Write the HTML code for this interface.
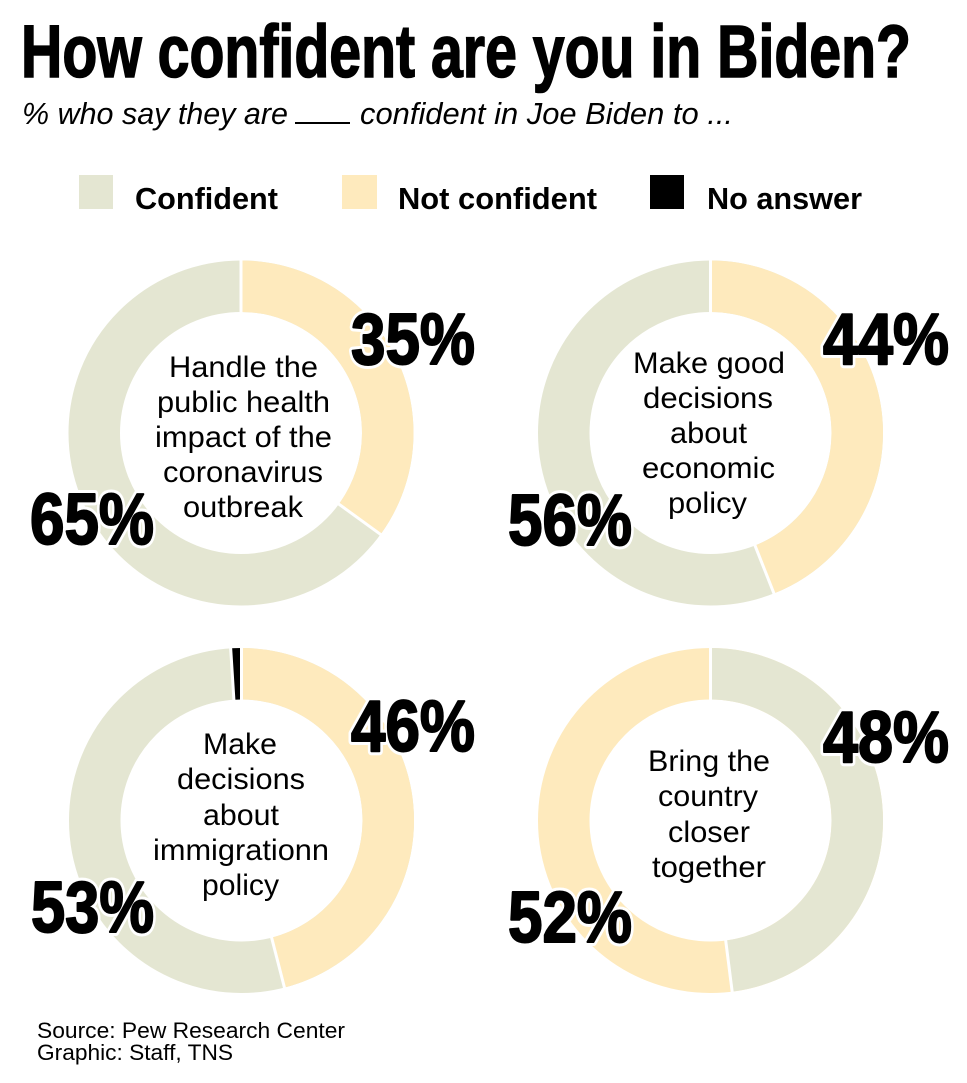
<!DOCTYPE html>
<html>
<head>
<meta charset="utf-8">
<style>
html,body{margin:0;padding:0;background:#fff;}
svg{display:block;}
</style>
</head>
<body>
<svg width="967" height="1083" viewBox="0 0 967 1083" xmlns="http://www.w3.org/2000/svg">
<rect width="967" height="1083" fill="#fff"/>

<!-- Title -->
<text x="21" y="77" font-family="Liberation Sans, sans-serif" font-weight="bold" font-size="74" fill="#000" stroke="#000" stroke-width="1.6" textLength="890" lengthAdjust="spacingAndGlyphs">How confident are you in Biden?</text>

<!-- Subtitle -->
<text x="22" y="124" font-family="Liberation Sans, sans-serif" font-style="italic" font-size="30.5" fill="#000" textLength="266" lengthAdjust="spacingAndGlyphs">% who say they are</text>
<rect x="295" y="122" width="55" height="2" fill="#000"/>
<text x="360" y="124" font-family="Liberation Sans, sans-serif" font-style="italic" font-size="30.5" fill="#000" textLength="373" lengthAdjust="spacingAndGlyphs">confident in Joe Biden to ...</text>

<!-- Legend -->
<rect x="79" y="175" width="34" height="34" fill="#e4e6d2"/>
<text x="135" y="209" font-family="Liberation Sans, sans-serif" font-weight="bold" font-size="30.5" fill="#000" textLength="143" lengthAdjust="spacingAndGlyphs">Confident</text>
<rect x="342" y="175" width="35" height="34" fill="#feeabd"/>
<text x="398" y="209" font-family="Liberation Sans, sans-serif" font-weight="bold" font-size="30.5" fill="#000" textLength="199" lengthAdjust="spacingAndGlyphs">Not confident</text>
<rect x="650" y="175" width="34" height="34" fill="#000"/>
<text x="707" y="209" font-family="Liberation Sans, sans-serif" font-weight="bold" font-size="30.5" fill="#000" textLength="155" lengthAdjust="spacingAndGlyphs">No answer</text>

<!-- Donut 1 (top-left) -->
<g fill="none" stroke-width="51.5">
  <circle cx="241" cy="433" r="146.75" stroke="#e4e6d2"/>
  <circle cx="241" cy="433" r="146.75" stroke="#feeabd" stroke-dasharray="322.72 2000" transform="rotate(-90 241 433)"/>
</g>
<g stroke="#fff" stroke-width="3">
  <line x1="241" y1="433" x2="241" y2="253"/>
  <line x1="241" y1="433" x2="386.6" y2="538.8"/>
</g>

<!-- Donut 2 (top-right) -->
<g fill="none" stroke-width="51.5">
  <circle cx="710.5" cy="433" r="146.75" stroke="#e4e6d2"/>
  <circle cx="710.5" cy="433" r="146.75" stroke="#feeabd" stroke-dasharray="405.70 2000" transform="rotate(-90 710.5 433)"/>
</g>
<g stroke="#fff" stroke-width="3">
  <line x1="710.5" y1="433" x2="710.5" y2="253"/>
  <line x1="710.5" y1="433" x2="776.7" y2="600.4"/>
</g>

<!-- Donut 3 (bottom-left) -->
<g fill="none" stroke-width="51.5">
  <circle cx="241.5" cy="820.5" r="146.75" stroke="#e4e6d2"/>
  <circle cx="241.5" cy="820.5" r="146.75" stroke="#feeabd" stroke-dasharray="424.14 2000" transform="rotate(-90 241.5 820.5)"/>
  <circle cx="241.5" cy="820.5" r="146.75" stroke="#000" stroke-dasharray="0 912.83 9.22 2000" transform="rotate(-90 241.5 820.5)"/>
</g>
<g stroke="#fff" stroke-width="3">
  <line x1="241.5" y1="820.5" x2="241.5" y2="640.5"/>
  <line x1="241.5" y1="820.5" x2="286.3" y2="994.8"/>
  <line x1="241.5" y1="820.5" x2="230.2" y2="640.9"/>
</g>

<!-- Donut 4 (bottom-right) -->
<g fill="none" stroke-width="51.5">
  <circle cx="710.5" cy="820.5" r="146.75" stroke="#feeabd"/>
  <circle cx="710.5" cy="820.5" r="146.75" stroke="#e4e6d2" stroke-dasharray="442.58 2000" transform="rotate(-90 710.5 820.5)"/>
</g>
<g stroke="#fff" stroke-width="3">
  <line x1="710.5" y1="820.5" x2="710.5" y2="640.5"/>
  <line x1="710.5" y1="820.5" x2="733.1" y2="999.1"/>
</g>

<!-- Center texts -->
<g font-family="Liberation Sans, sans-serif" font-size="30" fill="#000">
  <text x="169" y="377" textLength="149" lengthAdjust="spacingAndGlyphs">Handle the</text>
  <text x="157" y="412" textLength="173" lengthAdjust="spacingAndGlyphs">public health</text>
  <text x="155" y="447" textLength="177" lengthAdjust="spacingAndGlyphs">impact of the</text>
  <text x="163" y="482" textLength="160" lengthAdjust="spacingAndGlyphs">coronavirus</text>
  <text x="183" y="517" textLength="120" lengthAdjust="spacingAndGlyphs">outbreak</text>

  <text x="633" y="373" textLength="152" lengthAdjust="spacingAndGlyphs">Make good</text>
  <text x="643" y="408" textLength="130" lengthAdjust="spacingAndGlyphs">decisions</text>
  <text x="670" y="443" textLength="77" lengthAdjust="spacingAndGlyphs">about</text>
  <text x="642" y="478" textLength="133" lengthAdjust="spacingAndGlyphs">economic</text>
  <text x="668" y="513" textLength="79" lengthAdjust="spacingAndGlyphs">policy</text>

  <text x="203" y="754" textLength="74" lengthAdjust="spacingAndGlyphs">Make</text>
  <text x="177" y="789" textLength="128" lengthAdjust="spacingAndGlyphs">decisions</text>
  <text x="203" y="825" textLength="76" lengthAdjust="spacingAndGlyphs">about</text>
  <text x="153" y="860" textLength="176" lengthAdjust="spacingAndGlyphs">immigrationn</text>
  <text x="202" y="895" textLength="77" lengthAdjust="spacingAndGlyphs">policy</text>

  <text x="648" y="771" textLength="122" lengthAdjust="spacingAndGlyphs">Bring the</text>
  <text x="658" y="806" textLength="100" lengthAdjust="spacingAndGlyphs">country</text>
  <text x="668" y="842" textLength="82" lengthAdjust="spacingAndGlyphs">closer</text>
  <text x="652" y="877" textLength="114" lengthAdjust="spacingAndGlyphs">together</text>
</g>

<!-- Percent labels: white outline -->
<g font-family="Liberation Sans, sans-serif" font-weight="bold" font-size="72" fill="#fff" stroke="#fff" stroke-width="8" stroke-linejoin="round">
  <text x="351" y="364" textLength="124" lengthAdjust="spacingAndGlyphs">35%</text>
  <text x="30" y="544" textLength="124" lengthAdjust="spacingAndGlyphs">65%</text>
  <text x="823" y="364" textLength="126" lengthAdjust="spacingAndGlyphs">44%</text>
  <text x="508" y="545" textLength="124" lengthAdjust="spacingAndGlyphs">56%</text>
  <text x="351" y="751" textLength="124" lengthAdjust="spacingAndGlyphs">46%</text>
  <text x="31" y="932" textLength="123" lengthAdjust="spacingAndGlyphs">53%</text>
  <text x="823" y="762" textLength="126" lengthAdjust="spacingAndGlyphs">48%</text>
  <text x="508" y="942" textLength="124" lengthAdjust="spacingAndGlyphs">52%</text>
</g>
<!-- Percent labels: black -->
<g font-family="Liberation Sans, sans-serif" font-weight="bold" font-size="72" fill="#000" stroke="#000" stroke-width="2" stroke-linejoin="round">
  <text x="351" y="364" textLength="124" lengthAdjust="spacingAndGlyphs">35%</text>
  <text x="30" y="544" textLength="124" lengthAdjust="spacingAndGlyphs">65%</text>
  <text x="823" y="364" textLength="126" lengthAdjust="spacingAndGlyphs">44%</text>
  <text x="508" y="545" textLength="124" lengthAdjust="spacingAndGlyphs">56%</text>
  <text x="351" y="751" textLength="124" lengthAdjust="spacingAndGlyphs">46%</text>
  <text x="31" y="932" textLength="123" lengthAdjust="spacingAndGlyphs">53%</text>
  <text x="823" y="762" textLength="126" lengthAdjust="spacingAndGlyphs">48%</text>
  <text x="508" y="942" textLength="124" lengthAdjust="spacingAndGlyphs">52%</text>
</g>

<!-- Footer -->
<text x="37" y="1038" font-family="Liberation Sans, sans-serif" font-size="22" fill="#000" textLength="308" lengthAdjust="spacingAndGlyphs">Source: Pew Research Center</text>
<text x="37" y="1060" font-family="Liberation Sans, sans-serif" font-size="22" fill="#000" textLength="196" lengthAdjust="spacingAndGlyphs">Graphic: Staff, TNS</text>
</svg>
</body>
</html>
